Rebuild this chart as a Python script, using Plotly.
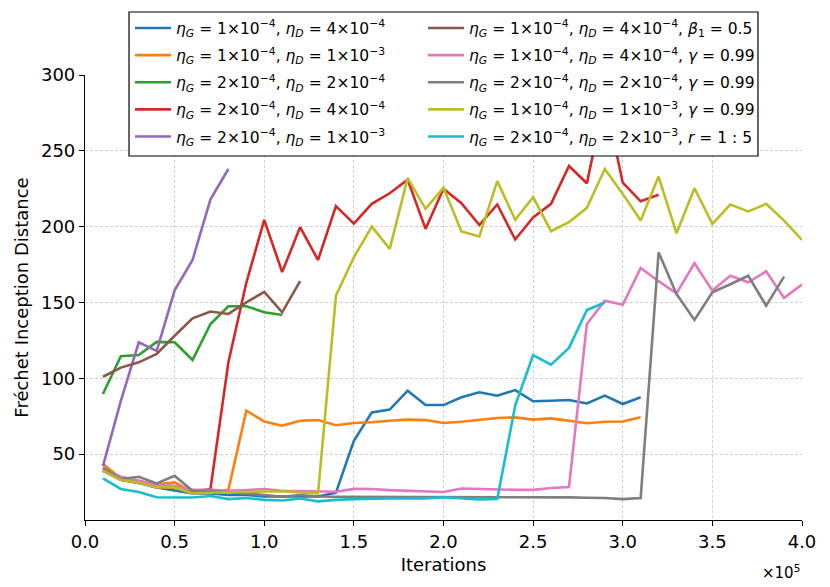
import plotly.graph_objects as go

ITER = [10000 * i for i in range(1, 41)]


def lab(g, d, extra=""):
    s = (f"<i>η</i><sub><i>G</i></sub> = {g}×10<sup>−4</sup>, "
         f"<i>η</i><sub><i>D</i></sub> = {d[0]}×10<sup>−{d[1]}</sup>")
    return s + extra


labels = [
    lab(1, (4, 4)),
    lab(1, (1, 3)),
    lab(2, (2, 4)),
    lab(2, (4, 4)),
    lab(2, (1, 3)),
    lab(1, (4, 4), ", <i>β</i><sub>1</sub> = 0.5"),
    lab(1, (4, 4), ", <i>γ</i> = 0.99"),
    lab(2, (2, 4), ", <i>γ</i> = 0.99"),
    lab(1, (1, 3), ", <i>γ</i> = 0.99"),
    lab(2, (2, 3), ", <i>r</i> = 1 : 5"),
]

fid_g1_d4 = [40, 33, 31, 28, 26, 24, 24, 23, 23, 22, 22, 22, 22, 24.5, 58.8, 77.5, 79.3, 91.8,
             82.3, 82.3, 87.4, 90.7, 88.5, 92.2, 84.8, 85.2, 85.6, 83.4, 88.5, 83, 87.4]
fid_g1_d10 = [43.4, 34, 32, 30, 31.3, 25, 25, 26.4, 78.6, 71.5, 68.7, 72, 72.4, 69, 70.5, 71,
              72, 72.7, 72.4, 70.5, 71.3, 72.7, 73.8, 74.2, 72.7, 73.5, 72, 70.3, 71.3, 71.5, 74.2]
fid_g2_d2 = [89.6, 114.5, 115.3, 124, 123.7, 112, 135.8, 147.5, 147.5, 143.5, 141.7]
fid_g2_d4 = [39, 33, 31, 28, 28, 25, 27, 110.5, 163, 204.5, 170, 199.6, 178, 213.5, 202, 215,
             222, 231, 198.5, 225, 215.5, 201, 214.6, 191.5, 206, 215, 240, 228.6, 285, 229,
             216.7, 221]
fid_g2_d10 = [42, 85, 123.7, 118, 158, 178, 218, 238]
fid_beta = [101, 107, 110.5, 116, 128, 139.5, 144, 142.4, 150, 157, 143.5, 164]
fid_g1_d4_gam = [40, 35, 32.5, 29.5, 29, 26.4, 26.4, 25.8, 26.2, 26.9, 25.8, 25.4, 25.3, 25.1,
                 27, 26.9, 26.2, 25.8, 25.8, 25, 27.3, 26.9, 26.4, 26.4, 26.4, 27.6, 28.3,
                 135.8, 151.2, 148.5, 172.7, 164, 156, 175.8, 157.8, 167.6, 163.3, 170.5, 153,
                 161.8]
fid_g2_d2_gam = [41, 33.5, 35, 30.6, 35.6, 25.8, 25.8, 24.7, 24, 23, 21.8, 23, 22, 21.8, 21.8,
                 21.8, 21.6, 21.5, 21.5, 21.5, 21.6, 21.6, 21.7, 21.8, 21.8, 21.6, 21.4, 21.2,
                 21, 20.3, 21, 183, 155.5, 138.4, 156.7, 162, 167.6, 147.8, 167]
fid_g1_d10_gam = [39, 33, 31, 28, 28, 24, 24.5, 24.7, 25, 25, 25.5, 24.7, 24, 154.5, 179.8,
                  200, 185.3, 232, 211.7, 225.6, 196.8, 193.5, 230, 204.5, 219.4, 197, 203,
                  212.4, 238, 221.6, 204, 233, 195.6, 225.3, 201.8, 214.5, 210, 215, 204, 191.2]
fid_ratio = [34, 27, 25, 21.5, 21.3, 21.3, 22.3, 20.3, 21, 19.8, 19.4, 20.7, 18.8, 19.8, 20.3,
             20.7, 20.7, 20.7, 20.7, 21.5, 20.7, 20, 20.3, 82, 115.3, 109, 120, 145, 150]

series = [fid_g1_d4, fid_g1_d10, fid_g2_d2, fid_g2_d4, fid_g2_d10,
          fid_beta, fid_g1_d4_gam, fid_g2_d2_gam, fid_g1_d10_gam, fid_ratio]
colors = ["#1f77b4", "#ff7f0e", "#2ca02c", "#d62728", "#9467bd",
          "#8c564b", "#e377c2", "#7f7f7f", "#bcbd22", "#17becf"]

x_tickvals = [0, 50000, 100000, 150000, 200000, 250000, 300000, 350000, 400000]
x_ticktext = ["0.0", "0.5", "1.0", "1.5", "2.0", "2.5", "3.0", "3.5", "4.0"]
y_tickvals = [50, 100, 150, 200, 250, 300]

FONT = "DejaVu Sans"

fig = go.Figure()
for i, (vals, col, name) in enumerate(zip(series, colors, labels)):
    fig.add_trace(go.Scatter(
        x=ITER[:len(vals)], y=vals, mode="lines", name=name,
        line=dict(color=col, width=2.6),
        legend="legend" if i < 5 else "legend2",
        legendgroup=f"g{i}",
    ))

grid = dict(showgrid=True, gridcolor="#d0d0d0", griddash="3px,2px", gridwidth=0.8)
leg_common = dict(
    orientation="v", xanchor="left", yanchor="top",
    itemwidth=36, bgcolor="rgba(0,0,0,0)", borderwidth=0,
    font=dict(family=FONT, size=15.5, color="black"),
    traceorder="grouped", tracegroupgap=4,
)

fig.update_layout(
    width=830, height=587,
    margin=dict(l=85, r=28, t=75, b=67, autoexpand=False),
    paper_bgcolor="white", plot_bgcolor="white",
    font=dict(family=FONT, color="black", size=18),
    showlegend=True,
    legend=dict(x=0.0628, y=1.143, **leg_common),
    legend2=dict(x=0.4714, y=1.143, **leg_common),
    xaxis=dict(
        range=[0, 400000], tickvals=x_tickvals, ticktext=x_ticktext,
        showline=True, linecolor="black", linewidth=1.2, mirror=False,
        ticks="outside", ticklen=5, tickcolor="black", tickwidth=1.2,
        zeroline=False, tickfont=dict(size=18), automargin=False, **grid,
        title=dict(text="Iterations", font=dict(size=18), standoff=7),
    ),
    yaxis=dict(
        range=[6.5, 300], tickvals=y_tickvals,
        showline=True, linecolor="black", linewidth=1.2, mirror=False,
        ticks="outside", ticklen=5, tickcolor="black", tickwidth=1.2,
        zeroline=False, tickfont=dict(size=18), automargin=False, **grid,
        title=dict(text="Fréchet Inception Distance", font=dict(size=18), standoff=7),
    ),
)

# legend frame (white box with black border, drawn over the lines like the original)
fig.add_shape(
    type="rect", xref="paper", yref="paper",
    x0=0.0614, x1=0.9386, y0=0.818, y1=1.1416,
    fillcolor="white", line=dict(color="black", width=1.2), layer="above",
)

fig.add_annotation(
    text="×10<sup>5</sup>", xref="paper", yref="paper", x=1.0, y=-0.09,
    xanchor="right", yanchor="top", showarrow=False, font=dict(size=15, family=FONT),
)

# remove the browser's default 8px page margin so the figure sits at the window origin
fig.write_html("out.html", config={"displayModeBar": False},
               post_script="document.body.style.margin='0';")
